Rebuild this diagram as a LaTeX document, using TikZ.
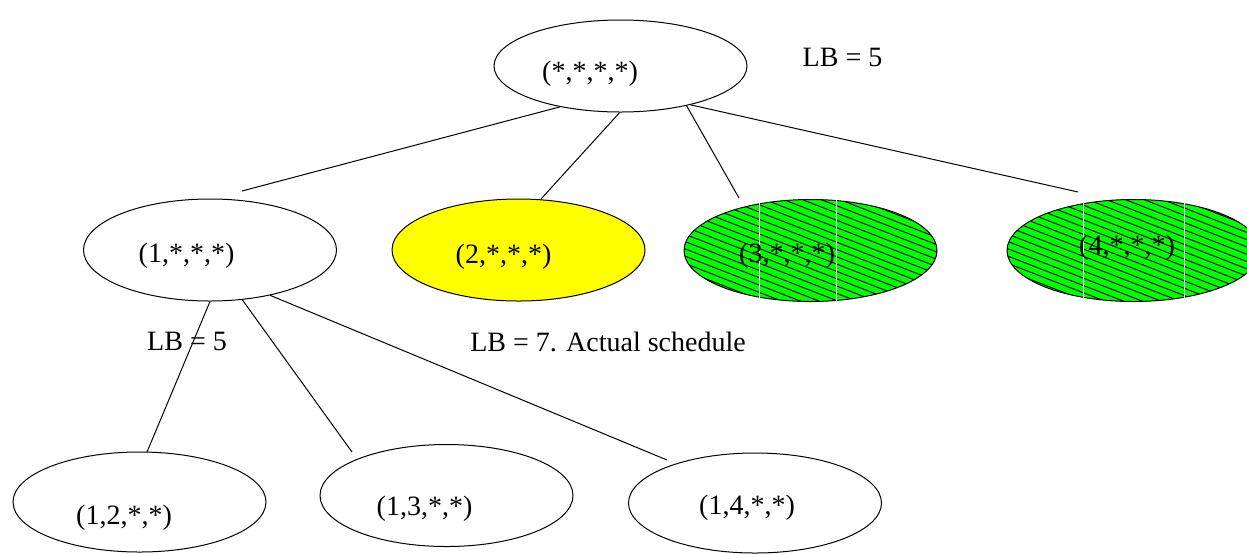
\documentclass[tikz,border=0pt]{standalone}
\usepackage{fontspec}
\setmainfont{Liberation Serif}
\definecolor{NodeYellow}{HTML}{FFFF00}
\definecolor{NodeGreen}{HTML}{00FF00}
\usetikzlibrary{shapes.geometric,calc}

\begin{document}
\begin{tikzpicture}[x=0.5pt,y=-0.5pt,
    bbnode/.style={ellipse, draw, line width=0.5pt, minimum width=126.5pt,
      minimum height=51pt, inner sep=0pt},
    lbl/.style={font=\fontsize{14}{17}\selectfont, inner sep=0pt},
    edge/.style={line width=0.5pt},
    hatch/.style={line width=0.5pt}]
  \useasboundingbox (0,0) rectangle (1247,553);

  % branch and bound tree
  \node[bbnode, minimum height=46pt] (root) at (620.5,66) {};
  \node[bbnode] (n1) at (210,250) {};
  \node[bbnode, fill=NodeYellow] (n2) at (518.5,250) {};
  \node[bbnode, fill=NodeGreen] (n3) at (810.5,250.5) {};
  \node[bbnode, fill=NodeGreen] (n4) at (1133.5,250.5) {};
  \node[bbnode, minimum height=50pt] (n12) at (139.5,502) {};
  \node[bbnode] (n13) at (446.5,495.5) {};
  \node[bbnode, minimum height=50pt] (n14) at (755,503) {};

  % pruned nodes are hatched
  \foreach \g in {n3,n4} {
    \begin{scope}
      \clip (\g.center) ellipse [x radius=63.25pt, y radius=25.5pt];
      \foreach \k in {-23,...,8}
        \draw[hatch] ($(\g.center)+(-140,{\k*7.3})$) -- ++(280,109);
    \end{scope}
  }
  \draw[white, line width=0.5pt] (759,199) -- (759,302) (836,199) -- (836,302);
  \draw[white, line width=0.5pt] (1083,199) -- (1083,302) (1184,199) -- (1184,302);

  % texts
  \node[lbl] (rootlbl) at (590,74) {(*,*,*,*)};
  \node[lbl] (n1lbl) at (186.5,256) {(1,*,*,*)};
  \node[lbl] (n2lbl) at (503.5,257) {(2,*,*,*)};
  \node[lbl] (n3lbl) at (787,256) {(3,*,*,*)};
  \node[lbl] (n4lbl) at (1127,247.5) {(4,*,*,*)};
  \node[lbl] (n12lbl) at (124,518) {(1,2,*,*)};
  \node[lbl] (n13lbl) at (424.5,509) {(1,3,*,*)};
  \node[lbl] (n14lbl) at (747,508) {(1,4,*,*)};

  \node[lbl] (lbroot) at (842.5,57) {LB = 5};
  \node[lbl] (lbn1) at (187,341) {LB = 5};
  \node[lbl] (lbn2) at (608,342) {LB = 7. Actual schedule};

  % branches
  \coordinate (t1) at (242,191);
  \coordinate (t2) at (541,199);
  \coordinate (t3) at (739,198);
  \coordinate (t4) at (1078,192);
  \coordinate (t12) at (147,452);
  \coordinate (t13) at (352,452);
  \coordinate (t14) at (667,460);

  \draw[edge] (root.214) -- (t1);
  \draw[edge] (root.269) -- (t2);
  \draw[edge] (root.329) -- (t3);
  \draw[edge] (root.331) -- (t4);
  \draw[edge] (n1.270) -- (t12);
  \draw[edge] (n1.303) -- (t13);
  \draw[edge] (n1.323) -- (t14);
\end{tikzpicture}
\end{document}
